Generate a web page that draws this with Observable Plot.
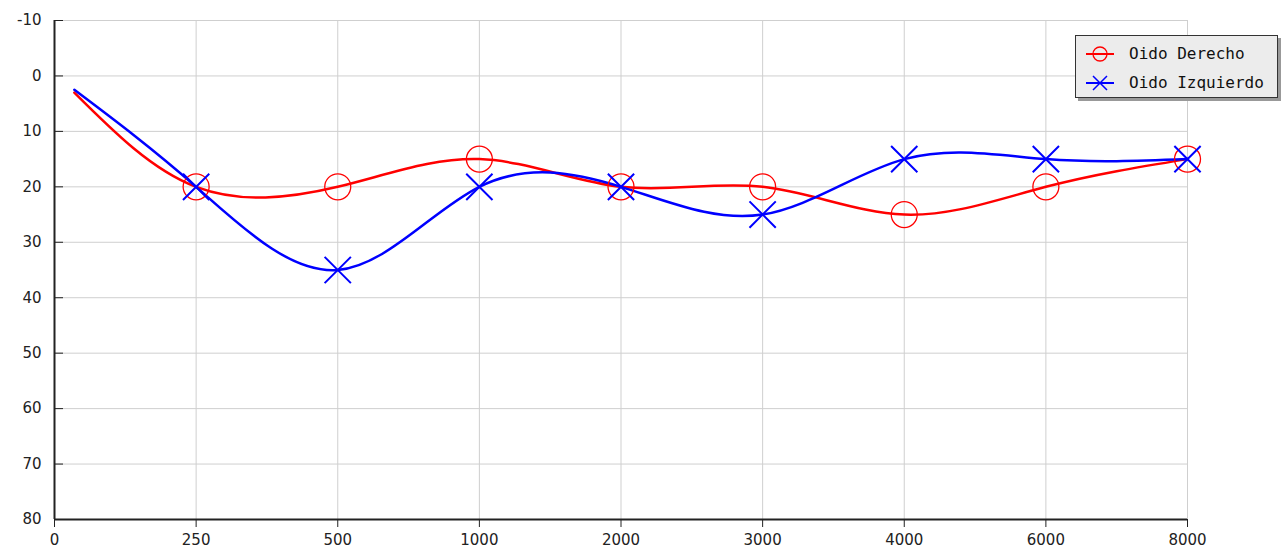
<!DOCTYPE html>
<html><head><meta charset="utf-8">
<script src="https://cdn.jsdelivr.net/npm/d3@7"></script>
<script src="https://cdn.jsdelivr.net/npm/@observablehq/plot@0.6"></script>
<style>
body{margin:0;background:#fff;}
#wrap{position:relative;width:1283px;height:548px;}
#legend{position:absolute;left:1075px;top:35px;width:201px;height:61px;background:#ececec;border:1px solid #333;box-shadow:3px 3px 0 #999;font-family:"DejaVu Sans Mono",monospace;font-size:16px;color:#111;}
.row{position:absolute;left:0;height:20px;}
.row svg{position:absolute;left:8px;top:0;}
.row span{position:absolute;left:53px;top:0;line-height:20px;white-space:nowrap;}
</style></head><body><div id="wrap"><div id="legend"></div></div>
<script>
const frecuencias = ["0","250","500","1000","2000","3000","4000","6000","8000"];
const posicionInicio = 0.14;
const inicioDerecho = 3;
const inicioIzquierdo = 2.5;
const oidoDerecho = [20,20,15,20,20,25,20,15];
const oidoIzquierdo = [20,35,20,20,25,15,15,15];
const yTicks = [-10,0,10,20,30,40,50,60,70,80];
const series = [
  {name:"Oido Derecho", color:"red", symbol:"circle", start:inicioDerecho, values:oidoDerecho},
  {name:"Oido Izquierdo", color:"blue", symbol:"times", start:inicioIzquierdo, values:oidoIzquierdo}
];
const xIdx = frecuencias.map((_, i) => i);
function linea(s){ return [{x:posicionInicio, y:s.start}, ...s.values.map((v,i)=>({x:i+1, y:v}))]; }
function puntos(s){ return s.values.map((v,i)=>({x:i+1, y:v})); }

const marks = [
  Plot.gridX(xIdx, {stroke:"#cfcfcf", strokeOpacity:1}),
  Plot.gridY(yTicks, {stroke:"#cfcfcf", strokeOpacity:1}),
  Plot.ruleX([0], {stroke:"#222", strokeWidth:2}),
  Plot.ruleY([80], {stroke:"#222", strokeWidth:2}),
  Plot.axisX(xIdx, {anchor:"bottom", label:null, tickSize:8, tickPadding:7, tickFormat:i=>frecuencias[i], fontSize:15, fill:"#222", stroke:"#222"}),
  Plot.axisY(yTicks, {anchor:"left", label:null, tickSize:0, tickPadding:13, tickFormat:d=>String(d), fontSize:15, fill:"#222"}),
  Plot.axisY(yTicks, {anchor:"left", label:null, tickSize:9, dx:9, tickFormat:()=>"", stroke:"#222"})
];
for (const s of series) {
  marks.push(Plot.line(linea(s), {x:"x", y:"y", curve:"natural", stroke:s.color, strokeWidth:2.5}));
}
for (const s of series) {
  marks.push(Plot.dot(puntos(s), {x:"x", y:"y", symbol:s.symbol, r:s.symbol==="circle"?13:12, stroke:s.color, fill:"none", strokeWidth:s.symbol==="circle"?1.3:2}));
}
const chart = Plot.plot({
  width:1283, height:548,
  marginLeft:54, marginRight:96, marginTop:20, marginBottom:29,
  style:{fontFamily:"DejaVu Sans", background:"#fff"},
  x:{type:"linear", domain:[0,8], axis:null},
  y:{domain:[-10,80], reverse:true, axis:null},
  marks
});
document.getElementById("wrap").prepend(chart);

const legend = document.getElementById("legend");
series.forEach((s, k) => {
  const row = document.createElement("div");
  row.className = "row";
  row.style.top = (8 + k*29) + "px";
  row.style.width = "200px";
  const mk = s.symbol === "circle"
    ? `<circle cx="16" cy="10" r="7" fill="none" stroke="${s.color}" stroke-width="1.3"/>`
    : `<path d="M9,3L23,17M9,17L23,3" stroke="${s.color}" stroke-width="1.5"/>`;
  row.innerHTML = `<svg width="32" height="20"><line x1="2" x2="30" y1="10" y2="10" stroke="${s.color}" stroke-width="2"/>${mk}</svg><span>${s.name}</span>`;
  legend.appendChild(row);
});
</script></body></html>
